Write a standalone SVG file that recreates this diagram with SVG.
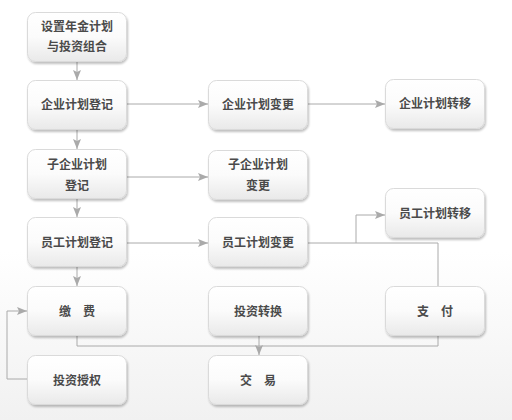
<svg xmlns="http://www.w3.org/2000/svg" width="512" height="420" viewBox="0 0 512 420">
<defs>
<linearGradient id="bg" x1="0" y1="0" x2="0" y2="1">
<stop offset="0" stop-color="#ffffff"/>
<stop offset="0.6" stop-color="#ffffff"/>
<stop offset="1" stop-color="#f1f1f1"/>
</linearGradient>
<linearGradient id="nodefill" x1="0" y1="0" x2="0" y2="1">
<stop offset="0" stop-color="#ffffff"/>
<stop offset="0.5" stop-color="#fbfbfb"/>
<stop offset="1" stop-color="#e9e9e9"/>
</linearGradient>
<filter id="sh" x="-10%" y="-10%" width="125%" height="130%">
<feGaussianBlur in="SourceAlpha" stdDeviation="1.2"/>
<feOffset dx="1" dy="1.5" result="b"/>
<feComponentTransfer><feFuncA type="linear" slope="0.25"/></feComponentTransfer>
<feMerge><feMergeNode/><feMergeNode in="SourceGraphic"/></feMerge>
</filter>
<marker id="arr" viewBox="0 0 10 8" refX="10" refY="4" markerWidth="10" markerHeight="8" markerUnits="userSpaceOnUse" orient="auto">
<path d="M0,0 L10,4 L0,8 L2,4 Z" fill="#aaaaaa"/>
</marker>
</defs>
<style>
.n rect{fill:url(#nodefill);stroke:#dadada;stroke-width:1;filter:url(#sh)}
.n text{font-family:"Noto Sans CJK SC","Noto Sans",sans-serif;font-size:12px;font-weight:bold;fill:#4a4a4a;text-anchor:middle}
.c path{fill:none;stroke:#aaaaaa;stroke-width:1}
.c .a{marker-end:url(#arr)}
</style>
<rect x="0" y="0" width="512" height="420" fill="url(#bg)"/>
<g class="c" id="connectors">
<path class="a" d="M77,62 V80"/>
<path class="a" d="M127,104 H208"/>
<path class="a" d="M308,104 H385"/>
<path class="a" d="M77,129 V149"/>
<path class="a" d="M127,177 H208"/>
<path class="a" d="M77,199 V217"/>
<path class="a" d="M127,243 H208"/>
<path class="a" d="M77,267 V286"/>
<path class="a" d="M308,243 H356 V215 H385"/>
<path d="M356,243 H438 V286"/>
<path d="M77,336 V346 H438 V336"/>
<path class="a" d="M259,335 V355"/>
<path class="a" d="M27,379 H7 V311 H27"/>
</g>
<g class="n" id="n1"><rect x="27.5" y="12.5" width="99" height="49" rx="8"/><text x="77" y="31">设置年金计划</text><text x="77" y="51">与投资组合</text></g>
<g class="n" id="n2"><rect x="27.5" y="80.5" width="99" height="49" rx="8"/><text x="77" y="109">企业计划登记</text></g>
<g class="n" id="n3"><rect x="27.5" y="149.5" width="99" height="49" rx="8"/><text x="77" y="169">子企业计划</text><text x="77" y="190">登记</text></g>
<g class="n" id="n4"><rect x="27.5" y="217.5" width="99" height="49" rx="8"/><text x="77" y="247">员工计划登记</text></g>
<g class="n" id="n5"><rect x="27.5" y="286.5" width="99" height="49" rx="8"/><text x="77" y="316">缴　费</text></g>
<g class="n" id="n6"><rect x="27.5" y="355.5" width="99" height="49" rx="8"/><text x="77" y="385">投资授权</text></g>
<g class="n" id="n7"><rect x="208.5" y="80.5" width="99" height="49" rx="8"/><text x="258" y="109">企业计划变更</text></g>
<g class="n" id="n8"><rect x="208.5" y="150.5" width="99" height="49" rx="8"/><text x="258" y="169">子企业计划</text><text x="258" y="190">变更</text></g>
<g class="n" id="n9"><rect x="208.5" y="217.5" width="99" height="49" rx="8"/><text x="258" y="247">员工计划变更</text></g>
<g class="n" id="n10"><rect x="208.5" y="286.5" width="99" height="49" rx="8"/><text x="258" y="316">投资转换</text></g>
<g class="n" id="n11"><rect x="208.5" y="355.5" width="99" height="49" rx="8"/><text x="258" y="385">交　易</text></g>
<g class="n" id="n12"><rect x="385.5" y="79.5" width="99" height="49" rx="8"/><text x="435" y="108">企业计划转移</text></g>
<g class="n" id="n13"><rect x="385.5" y="188.5" width="99" height="49" rx="8"/><text x="435" y="218">员工计划转移</text></g>
<g class="n" id="n14"><rect x="385.5" y="286.5" width="99" height="49" rx="8"/><text x="435" y="316">支　付</text></g>
</svg>
